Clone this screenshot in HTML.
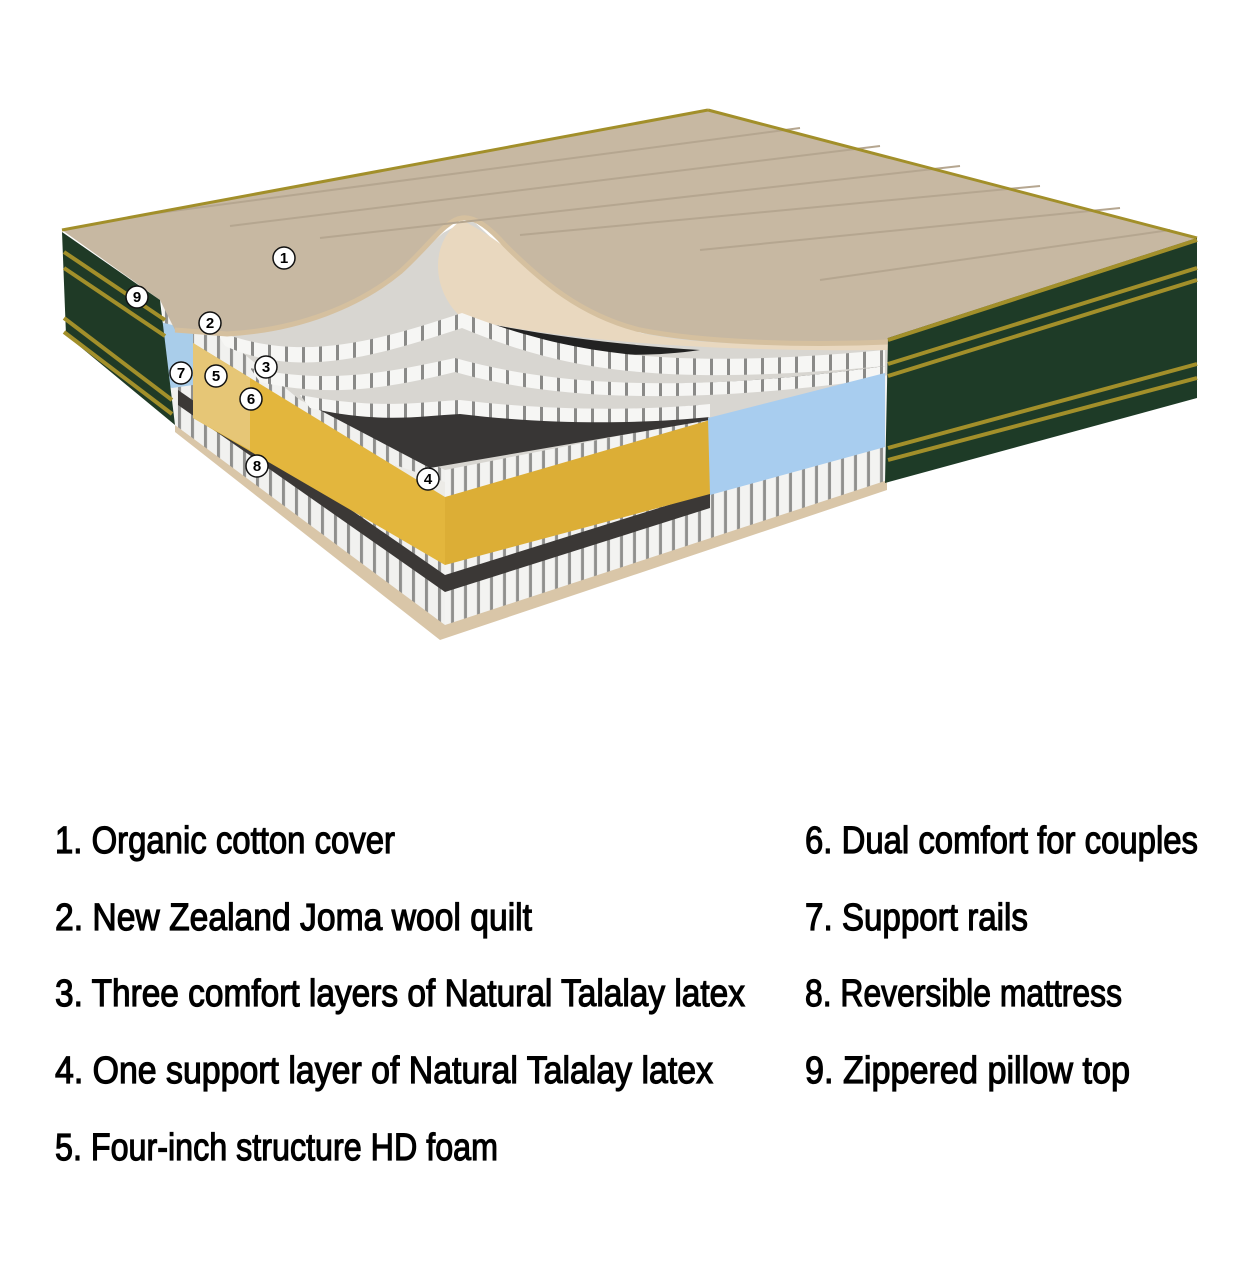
<!DOCTYPE html>
<html><head><meta charset="utf-8"><style>
html,body{margin:0;padding:0;background:#fff}
svg{display:block}
text{font-family:"Liberation Sans",sans-serif;font-size:38px;fill:#000;stroke:#000;stroke-width:1.2px}
.n{font-size:15px;font-weight:bold;stroke:none;text-anchor:middle}
</style></head><body>
<svg width="1242" height="1268" viewBox="0 0 1242 1268" xmlns="http://www.w3.org/2000/svg">
<defs>
<pattern id="coil2" width="13" height="10" patternUnits="userSpaceOnUse" patternTransform="skewY(-17)">
<rect width="13" height="10" fill="#f3f3f1"/><rect x="9" width="3" height="10" fill="#8f8f8d"/>
</pattern>
<pattern id="coil3" width="13" height="10" patternUnits="userSpaceOnUse" patternTransform="skewY(37)">
<rect width="13" height="10" fill="#f1f1ef"/><rect x="9" width="3" height="10" fill="#8f8f8d"/>
</pattern>
<pattern id="band" width="17" height="10" patternUnits="userSpaceOnUse">
<rect width="17" height="10" fill="#f6f6f4"/><rect x="13" width="3" height="10" fill="#8a8a88"/>
</pattern>
</defs>
<polygon points="175,425 440,618 887,470 887,490 440,640 175,432" fill="#d9c6a8"/>
<polygon points="160,290 445,470 445,625 175,425" fill="url(#coil3)"/>
<polygon points="445,470 888,338 888,480 445,625" fill="url(#coil2)"/>
<polygon points="178,390 445,575 445,592 178,405" fill="#3b3836"/>
<polygon points="445,575 710,492 710,508 445,592" fill="#3b3836"/>
<polygon points="215,330 327,310 393,277 443,233 470,218 540,283 640,333 760,345 888,342 888,375 710,418 445,470 300,400" fill="#d8d6d1"/>
<polygon points="310,405 430,468 710,420 700,405 560,418 460,405 380,412" fill="#383635"/>
<path d="M462,220 C520,250 560,300 640,333 C700,345 760,346 888,342 L888,350 C700,352 560,340 462,318 C430,290 430,240 462,220 Z" fill="#e9d8bf"/>
<path d="M470,320 C540,335 620,345 700,350 C620,362 540,350 470,326 Z" fill="#222"/>
<path d="M462,362 C560,388 700,392 885,366 L885,370 C700,398 560,395 462,368 Z" fill="#333"/>
<path d="M215,330 C300,365 380,340 462,313 C560,350 650,372 885,350 L885,366 C650,388 560,368 462,328 C380,355 300,380 225,346 Z" fill="url(#band)"/>
<path d="M250,368 C330,385 390,372 455,358 C560,388 700,392 885,366 L885,378 C700,404 560,402 455,372 C390,388 330,398 260,382 Z" fill="url(#band)"/>
<path d="M300,395 C380,410 420,402 460,400 C560,412 650,410 710,404 L710,417 C650,423 560,426 460,414 C420,416 380,424 310,408 Z" fill="url(#band)"/>
<polygon points="395,465 445,482 445,498 395,480" fill="#ecebe7"/>
<polygon points="193,343 445,497 445,565 193,418" fill="#e3b63d"/>
<polygon points="193,343 250,378 250,450 193,418" fill="#e6c676"/>
<polygon points="445,497 710,420 710,494 445,565" fill="#dcae36"/>
<polygon points="708,418 885,373 885,447 710,495" fill="#a8cdef"/>
<polygon points="160,322 193,330 193,385 172,388 164,385" fill="#a9cdea"/>
<!-- top surface with smooth peel -->
<path d="M62,230 L708,110 L1197,238 L888,342 C800,346 700,342 640,330 C580,315 540,280 505,245 C490,228 475,216 462,218 C445,220 430,245 400,272 C360,305 300,330 227,334 L175,330 L160,300 Z" fill="#c7b8a2"/>
<path d="M175,330 L227,334 C300,330 360,305 400,272 C430,245 445,220 462,218 C475,216 490,228 505,245 C540,280 580,315 640,330 C700,342 800,346 888,342" fill="none" stroke="#d5c09f" stroke-width="5"/>
<g stroke="#b5a690" stroke-width="2" fill="none">
<line x1="150" y1="214" x2="800" y2="128"/><line x1="230" y1="226" x2="880" y2="146"/>
<line x1="320" y1="238" x2="960" y2="166"/><line x1="520" y1="235" x2="1040" y2="186"/>
<line x1="700" y1="250" x2="1120" y2="208"/><line x1="820" y1="280" x2="1170" y2="230"/>
</g>
<line x1="62" y1="230" x2="708" y2="110" stroke="#a28f2a" stroke-width="3"/>
<line x1="708" y1="110" x2="1197" y2="238" stroke="#a28f2a" stroke-width="3"/>
<polygon points="62,232 160,300 175,425 66,335" fill="#1f3a26"/>
<g stroke="#a28f2a" stroke-width="4">
<line x1="64" y1="252" x2="165" y2="320"/><line x1="64" y1="268" x2="165" y2="336"/>
<line x1="64" y1="318" x2="172" y2="400"/><line x1="64" y1="332" x2="172" y2="414"/>
</g>
<polygon points="888,338 1197,238 1197,398 885,483" fill="#1e3b27"/>
<g stroke="#a28f2a" stroke-width="4">
<line x1="888" y1="340" x2="1197" y2="240"/><line x1="888" y1="364" x2="1197" y2="268"/>
<line x1="888" y1="376" x2="1197" y2="280"/><line x1="888" y1="448" x2="1197" y2="364"/>
<line x1="888" y1="460" x2="1197" y2="378"/>
</g>
<g>
<g fill="#fff" stroke="#111" stroke-width="1.5">
<circle cx="284" cy="258" r="11"/><circle cx="137" cy="297" r="11"/><circle cx="210" cy="323" r="11"/>
<circle cx="266" cy="367" r="11"/><circle cx="181" cy="373" r="11"/><circle cx="216" cy="376" r="11"/>
<circle cx="251" cy="399" r="11"/><circle cx="257" cy="466" r="11"/><circle cx="428" cy="479" r="11"/>
</g>
<text class="n" x="284" y="263">1</text><text class="n" x="137" y="302">9</text><text class="n" x="210" y="328">2</text>
<text class="n" x="266" y="372">3</text><text class="n" x="181" y="378">7</text><text class="n" x="216" y="381">5</text>
<text class="n" x="251" y="404">6</text><text class="n" x="257" y="471">8</text><text class="n" x="428" y="484">4</text>
</g>
<text x="55" y="853" textLength="340" lengthAdjust="spacingAndGlyphs">1. Organic cotton cover</text>
<text x="55" y="930" textLength="477" lengthAdjust="spacingAndGlyphs">2. New Zealand Joma wool quilt</text>
<text x="55" y="1006" textLength="690" lengthAdjust="spacingAndGlyphs">3. Three comfort layers of Natural Talalay latex</text>
<text x="55" y="1083" textLength="658" lengthAdjust="spacingAndGlyphs">4. One support layer of Natural Talalay latex</text>
<text x="55" y="1160" textLength="443" lengthAdjust="spacingAndGlyphs">5. Four-inch structure HD foam</text>
<text x="805" y="853" textLength="393" lengthAdjust="spacingAndGlyphs">6. Dual comfort for couples</text>
<text x="805" y="930" textLength="223" lengthAdjust="spacingAndGlyphs">7. Support rails</text>
<text x="805" y="1006" textLength="317" lengthAdjust="spacingAndGlyphs">8. Reversible mattress</text>
<text x="805" y="1083" textLength="325" lengthAdjust="spacingAndGlyphs">9. Zippered pillow top</text>
</svg>
</body></html>
